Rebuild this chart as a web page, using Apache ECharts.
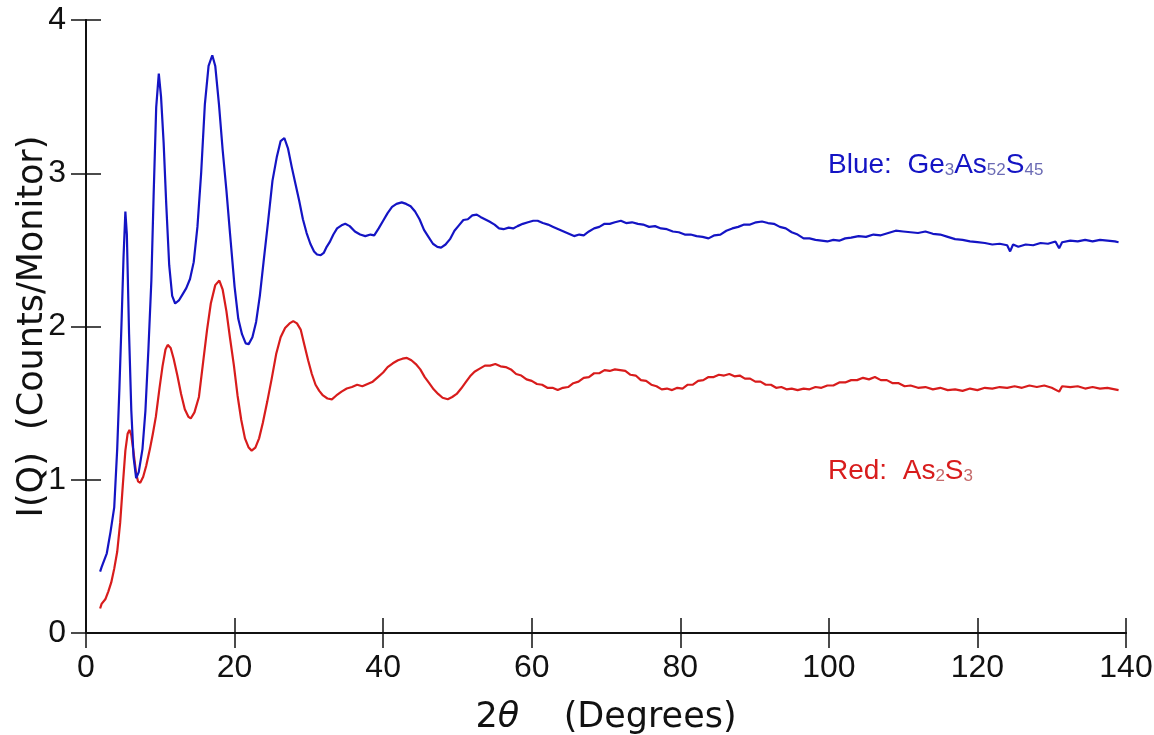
<!DOCTYPE html>
<html>
<head>
<meta charset="utf-8">
<script src="https://cdn.jsdelivr.net/npm/echarts@6/dist/echarts.min.js"></script>
<style>
  html, body { margin: 0; padding: 0; background: #ffffff; }
  #chart { width: 1154px; height: 735px; }
</style>
</head>
<body>
<div id="chart"></div>
<script>
// X-ray scattering intensity I(Q) versus scattering angle 2θ for two glasses.
const xTicks = [0, 20, 40, 60, 80, 100, 120, 140];
const yTicks = [0, 1, 2, 3, 4];

// Ge3As52S45 (blue) : [2θ, I(Q)]
const blueTheta = [
  1.9, 2.1, 2.3, 2.8, 3.3, 3.8, 4.2, 4.5, 4.8, 5.05, 5.3, 5.5, 5.8, 6.1, 6.4, 6.75, 7.1, 7.6, 8.0, 8.4,
  8.8, 9.1, 9.45, 9.8, 10.1, 10.45, 10.8, 11.2, 11.6, 12.0, 12.5, 13.0, 13.5, 14.0, 14.5, 15.0, 15.5, 16.0, 16.5, 17.0,
  17.4, 17.9, 18.4, 18.9, 19.4, 20.0, 20.5, 21.0, 21.5, 21.9, 22.4, 22.9, 23.4, 23.9, 24.5, 25.1, 25.7, 26.2, 26.7, 27.2,
  27.7, 28.2, 28.7, 29.2, 29.7, 30.2, 30.7, 31.1, 31.6, 32.0, 32.4, 32.8, 33.3, 33.8, 34.4, 34.9, 35.5, 36.2, 36.9, 37.6,
  38.3, 38.8, 39.4, 40.0, 40.6, 41.2, 41.8, 42.5, 43.1, 43.7, 44.3, 44.9, 45.5, 46.1, 46.7, 47.3, 47.8, 48.4, 49.0, 49.6,
  50.2, 50.8, 51.4, 52.0, 52.6, 53.1, 53.7, 54.3, 55.0, 55.6, 56.2, 56.9, 57.5, 58.1, 58.8, 59.5, 60.2, 60.8, 61.5, 62.2,
  62.9, 63.6, 64.3, 65.0, 65.7, 66.4, 67.0, 67.7, 68.4, 69.1, 69.8, 70.5, 71.2, 72.0, 72.7, 73.5, 74.3, 75.0, 75.8, 76.6,
  77.4, 78.2, 79.0, 79.8, 80.6, 81.4, 82.2, 83.0, 83.8, 84.6, 85.4, 86.2, 87.0, 87.8, 88.6, 89.4, 90.2, 91.0, 91.8, 92.6,
  93.4, 94.2, 95.0, 95.8, 96.6, 97.4, 98.2, 99.0, 99.8, 100.6, 101.4, 102.2, 103.0, 104.0, 105.0, 106.0, 107.0, 108.0, 109.0, 110.0,
  111.0, 112.0, 113.0, 114.0, 115.0, 116.0, 117.0, 118.0, 119.0, 120.0, 121.0, 122.0, 123.0, 124.0, 124.4, 124.8, 125.5, 126.5, 127.5, 128.5,
  129.5, 130.5, 131.0, 131.4, 132.5, 133.5, 134.5, 135.5, 136.5, 137.5, 138.5, 139.0
];
const blueI = [
  0.40, 0.43, 0.42, 0.52, 0.66, 0.82, 1.20, 1.60, 2.05, 2.45, 2.75, 2.60, 1.95, 1.45, 1.15, 1.01, 1.05, 1.20, 1.45, 1.85,
  2.30, 2.85, 3.43, 3.65, 3.50, 3.20, 2.80, 2.40, 2.20, 2.15, 2.17, 2.21, 2.25, 2.31, 2.42, 2.65, 3.00, 3.45, 3.70, 3.77,
  3.70, 3.45, 3.15, 2.89, 2.60, 2.26, 2.05, 1.95, 1.89, 1.885, 1.93, 2.03, 2.20, 2.42, 2.68, 2.95, 3.11, 3.21, 3.23, 3.16,
  3.04, 2.93, 2.82, 2.70, 2.61, 2.54, 2.49, 2.47, 2.465, 2.48, 2.52, 2.55, 2.60, 2.64, 2.66, 2.67, 2.655, 2.62, 2.60, 2.59,
  2.60, 2.595, 2.64, 2.69, 2.74, 2.78, 2.80, 2.81, 2.80, 2.785, 2.75, 2.70, 2.63, 2.585, 2.54, 2.52, 2.515, 2.535, 2.57, 2.625,
  2.66, 2.695, 2.70, 2.725, 2.73, 2.715, 2.70, 2.685, 2.665, 2.64, 2.635, 2.645, 2.64, 2.655, 2.67, 2.68, 2.69, 2.69, 2.675, 2.665,
  2.65, 2.635, 2.62, 2.605, 2.59, 2.60, 2.595, 2.62, 2.64, 2.65, 2.67, 2.67, 2.68, 2.69, 2.675, 2.68, 2.67, 2.665, 2.65, 2.655,
  2.64, 2.635, 2.62, 2.615, 2.60, 2.60, 2.59, 2.585, 2.575, 2.595, 2.60, 2.625, 2.64, 2.65, 2.665, 2.665, 2.68, 2.685, 2.675, 2.67,
  2.65, 2.64, 2.615, 2.60, 2.575, 2.575, 2.565, 2.56, 2.555, 2.565, 2.56, 2.575, 2.58, 2.59, 2.585, 2.60, 2.595, 2.61, 2.625, 2.62,
  2.615, 2.61, 2.62, 2.605, 2.60, 2.585, 2.57, 2.565, 2.555, 2.55, 2.545, 2.535, 2.54, 2.53, 2.49, 2.535, 2.52, 2.535, 2.53, 2.545,
  2.54, 2.555, 2.51, 2.55, 2.56, 2.555, 2.565, 2.555, 2.565, 2.56, 2.555, 2.55
];

// As2S3 (red) : [2θ, I(Q)]
const redTheta = [
  1.9, 2.1, 2.3, 2.6, 3.0, 3.4, 3.8, 4.2, 4.6, 4.95, 5.3, 5.6, 5.85, 6.1, 6.4, 6.75, 7.0, 7.3, 7.7, 8.1,
  8.6, 9.0, 9.4, 9.9, 10.3, 10.7, 11.0, 11.4, 11.8, 12.3, 12.8, 13.3, 13.8, 14.1, 14.6, 15.2, 15.8, 16.3, 16.8, 17.4,
  17.95, 18.4, 18.9, 19.4, 19.9, 20.4, 20.9, 21.4, 21.9, 22.3, 22.8, 23.3, 23.8, 24.4, 25.0, 25.6, 26.2, 26.8, 27.4, 27.9,
  28.4, 28.9, 29.4, 29.9, 30.4, 30.9, 31.4, 31.9, 32.5, 33.1, 33.7, 34.4, 35.1, 35.8, 36.5, 37.2, 37.9, 38.6, 39.3, 40.0,
  40.6, 41.3, 42.0, 42.6, 43.2, 43.8, 44.4, 45.0, 45.6, 46.2, 46.8, 47.4, 48.0, 48.7, 49.3, 49.9, 50.5, 51.1, 51.7, 52.3,
  53.0, 53.7, 54.4, 55.1, 55.8, 56.5, 57.2, 57.9, 58.6, 59.3, 60.0, 60.7, 61.4, 62.1, 62.8, 63.5, 64.2, 64.9, 65.6, 66.3,
  67.0, 67.7, 68.4, 69.1, 69.8, 70.5, 71.2, 71.9, 72.6, 73.3, 74.0, 74.7, 75.4, 76.1, 76.8, 77.5, 78.2, 78.9, 79.6, 80.3,
  81.0, 81.7, 82.4, 83.1, 83.8, 84.5, 85.2, 85.9, 86.6, 87.3, 88.0, 88.7, 89.4, 90.1, 90.8, 91.5, 92.2, 92.9, 93.6, 94.3,
  95.0, 95.8, 96.6, 97.4, 98.2, 99.0, 99.8, 100.6, 101.4, 102.2, 103.0, 103.8, 104.6, 105.4, 106.2, 107.0, 107.8, 108.6, 109.4, 110.2,
  111.0, 112.0, 113.0, 114.0, 115.0, 116.0, 117.0, 118.0, 119.0, 120.0, 121.0, 122.0, 123.0, 124.0, 125.0, 126.0, 127.0, 128.0, 129.0, 130.0,
  131.0, 131.4, 132.5, 133.5, 134.5, 135.5, 136.5, 137.5, 138.5, 139.0
];
const redI = [
  0.16, 0.19, 0.18, 0.22, 0.27, 0.33, 0.42, 0.53, 0.72, 0.96, 1.19, 1.30, 1.325, 1.29, 1.18, 1.04, 0.99, 0.98, 1.02, 1.09,
  1.20, 1.30, 1.41, 1.60, 1.74, 1.85, 1.88, 1.86, 1.79, 1.68, 1.56, 1.46, 1.41, 1.40, 1.44, 1.54, 1.78, 1.98, 2.15, 2.27,
  2.30, 2.24, 2.10, 1.92, 1.75, 1.55, 1.39, 1.27, 1.21, 1.19, 1.21, 1.27, 1.37, 1.51, 1.66, 1.82, 1.93, 1.99, 2.02, 2.035,
  2.02, 1.98, 1.88, 1.78, 1.69, 1.62, 1.58, 1.55, 1.53, 1.525, 1.55, 1.575, 1.595, 1.605, 1.62, 1.61, 1.625, 1.64, 1.67, 1.70,
  1.735, 1.76, 1.78, 1.79, 1.795, 1.78, 1.755, 1.72, 1.67, 1.63, 1.59, 1.56, 1.535, 1.525, 1.54, 1.56, 1.595, 1.635, 1.675, 1.705,
  1.725, 1.745, 1.745, 1.755, 1.74, 1.735, 1.72, 1.69, 1.68, 1.655, 1.645, 1.625, 1.62, 1.60, 1.60, 1.585, 1.60, 1.605, 1.63, 1.64,
  1.665, 1.67, 1.695, 1.695, 1.715, 1.71, 1.72, 1.715, 1.71, 1.685, 1.68, 1.65, 1.645, 1.62, 1.61, 1.59, 1.595, 1.585, 1.60, 1.595,
  1.62, 1.62, 1.645, 1.65, 1.67, 1.67, 1.685, 1.68, 1.69, 1.675, 1.68, 1.66, 1.66, 1.64, 1.64, 1.62, 1.62, 1.60, 1.605, 1.59,
  1.595, 1.585, 1.595, 1.59, 1.605, 1.60, 1.615, 1.615, 1.635, 1.635, 1.65, 1.65, 1.665, 1.655, 1.67, 1.65, 1.65, 1.63, 1.63, 1.61,
  1.615, 1.60, 1.605, 1.59, 1.60, 1.585, 1.59, 1.58, 1.595, 1.585, 1.60, 1.595, 1.605, 1.60, 1.61, 1.60, 1.615, 1.605, 1.615, 1.60,
  1.575, 1.61, 1.605, 1.61, 1.595, 1.605, 1.595, 1.60, 1.59, 1.585
];

const blueColor = '#1414c4';
const redColor = '#d81c1c';
const font = '"Liberation Sans", "DejaVu Sans", sans-serif';
const titleFont = '"DejaVu Sans", "Liberation Sans", sans-serif';

function pairs(xs, ys) {
  return xs.map((x, i) => [x, ys[i]]);
}

const chart = echarts.init(document.getElementById('chart'), null, { renderer: 'canvas' });

const frameLine = { show: true, lineStyle: { color: '#111111', width: 2 } };
const innerTick = { show: true, inside: true, length: 15, lineStyle: { color: '#111111', width: 1.5 } };

chart.setOption({
  animation: false,
  backgroundColor: '#ffffff',
  grid: { left: 86, right: 28, top: 20, bottom: 102, containLabel: false, outerBoundsMode: 'none' },
  xAxis: [
    {
      type: 'value', min: xTicks[0], max: xTicks[xTicks.length - 1], interval: 20,
      position: 'bottom',
      axisLine: frameLine, axisTick: innerTick, splitLine: { show: false },
      axisLabel: { color: '#111111', fontSize: 32, fontFamily: font, margin: 19 },
      name: '2{i|θ}    (Degrees)', nameLocation: 'middle', nameGap: 67, nameMoveOverlap: false,
      nameTextStyle: {
        color: '#111111', fontSize: 35, fontFamily: titleFont,
        rich: { i: { fontStyle: 'italic', fontSize: 35, fontFamily: titleFont, color: '#111111' } }
      }
    },
    {
      type: 'value', min: xTicks[0], max: xTicks[xTicks.length - 1], interval: 20,
      position: 'top',
      axisLine: frameLine, axisTick: innerTick, axisLabel: { show: false }, splitLine: { show: false }
    }
  ],
  yAxis: [
    {
      type: 'value', min: yTicks[0], max: yTicks[yTicks.length - 1], interval: 1,
      position: 'left',
      axisLine: frameLine, axisTick: innerTick, splitLine: { show: false },
      axisLabel: { color: '#111111', fontSize: 32, fontFamily: font, margin: 20 },
      name: 'I(Q)  (Counts/Monitor)', nameLocation: 'middle', nameGap: 36, nameMoveOverlap: false,
      nameTextStyle: { color: '#111111', fontSize: 35, fontFamily: titleFont }
    },
    {
      type: 'value', min: yTicks[0], max: yTicks[yTicks.length - 1], interval: 1,
      position: 'right',
      axisLine: frameLine, axisTick: innerTick, axisLabel: { show: false }, splitLine: { show: false }
    }
  ],
  series: [
    {
      name: 'Ge3As52S45', type: 'line', xAxisIndex: 0, yAxisIndex: 0,
      data: pairs(blueTheta, blueI), showSymbol: false, symbol: 'none',
      lineStyle: { color: blueColor, width: 2.2 }, z: 3
    },
    {
      name: 'As2S3', type: 'line', xAxisIndex: 0, yAxisIndex: 0,
      data: pairs(redTheta, redI), showSymbol: false, symbol: 'none',
      lineStyle: { color: redColor, width: 2.2 }, z: 2
    }
  ],
  graphic: [
    {
      type: 'text', left: 828, top: 151,
      style: {
        text: '{m|Blue:  Ge}{s|3}{m|As}{s|52}{m|S}{s|45}',
        rich: {
          m: { fill: blueColor, fontSize: 28, fontFamily: font, verticalAlign: 'bottom', lineHeight: 32 },
          s: { fill: '#6b6bb4', fontSize: 17, fontFamily: font, verticalAlign: 'bottom', lineHeight: 27 }
        }
      }
    },
    {
      type: 'text', left: 828, top: 457,
      style: {
        text: '{m|Red:  As}{s|2}{m|S}{s|3}',
        rich: {
          m: { fill: redColor, fontSize: 28, fontFamily: font, verticalAlign: 'bottom', lineHeight: 32 },
          s: { fill: '#c46a6a', fontSize: 17, fontFamily: font, verticalAlign: 'bottom', lineHeight: 27 }
        }
      }
    }
  ]
});
</script>
</body>
</html>
